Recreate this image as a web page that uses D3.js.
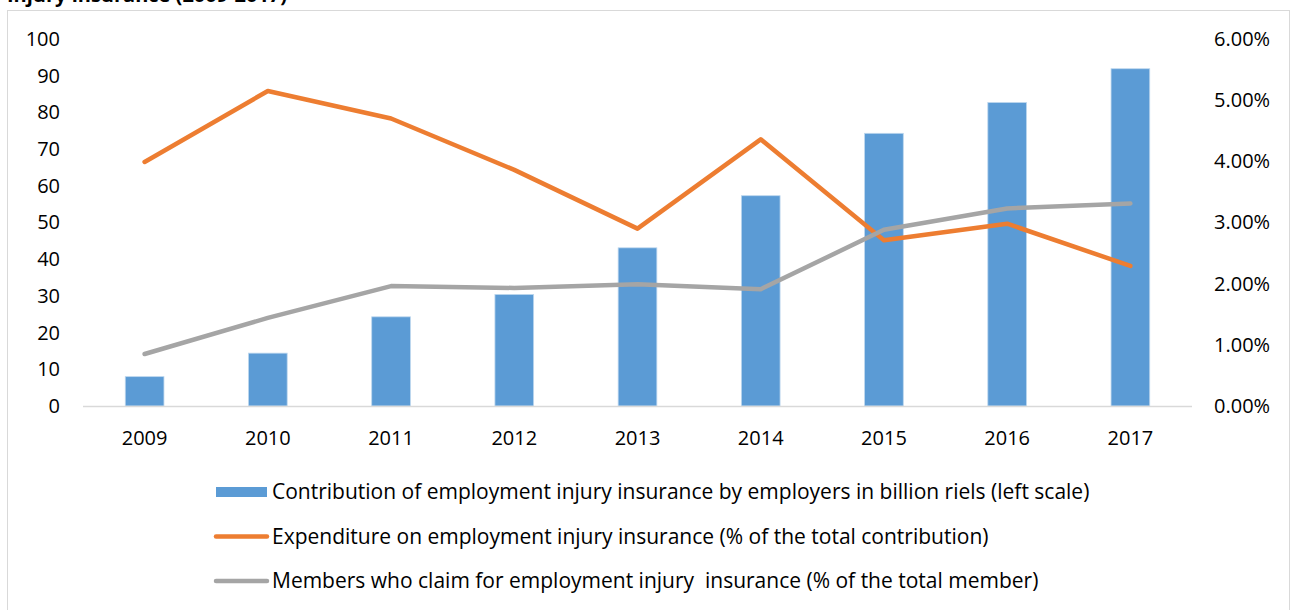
<!DOCTYPE html>
<meta charset="utf-8">
<script src="https://d3js.org/d3.v7.min.js"></script>
<style>
  body { margin: 0; background: #fff; overflow: hidden; }
  text { font-family: "Open Sans", sans-serif; fill: #000; white-space: pre; }
</style>
<div id="my_dataviz"></div>
<script>
    // data
    var years = ["2009", "2010", "2011", "2012", "2013", "2014", "2015", "2016", "2017"];
    // billion riels (left scale)
    var contribution = [8.0, 14.4, 24.3, 30.4, 43.1, 57.3, 74.3, 82.7, 91.9];
    // % of total contribution (right scale)
    var expenditure = [3.99, 5.15, 4.70, 3.86, 2.90, 4.36, 2.71, 2.98, 2.29];
    // % of total member (right scale)
    var claims = [0.85, 1.44, 1.96, 1.93, 1.99, 1.91, 2.88, 3.23, 3.31];
    var leftTicks = [0, 10, 20, 30, 40, 50, 60, 70, 80, 90, 100];
    var rightTicks = [0, 0.01, 0.02, 0.03, 0.04, 0.05, 0.06];
    var legendLabels = [
        "Contribution of employment injury insurance by employers in billion riels (left scale)",
        "Expenditure on employment injury insurance (% of the total contribution)",
        "Members who claim for employment injury  insurance (% of the total member)"
    ];

    var W = 1295, H = 610;
    var margin = {top: 39, right: 103, bottom: 204, left: 83},
        width = W - margin.left - margin.right,
        height = H - margin.top - margin.bottom;

    var svg0 = d3.select("#my_dataviz")
      .append("svg")
        .attr("width", W)
        .attr("height", H);

    // title, cut off at the top of the picture
    svg0.append("text")
        .attr("x", 7)
        .attr("y", 2)
        .style("font-weight", "bold")
        .style("font-size", "20px")
        .text("Injury insurance (2009-2017)");

    // chart frame
    svg0.append("rect")
        .attr("x", 7.5)
        .attr("y", 10.5)
        .attr("width", 1282)
        .attr("height", 640)
        .attr("fill", "none")
        .attr("stroke", "#d9d9d9");

    var svg = svg0.append("g")
        .attr("transform", "translate(" + margin.left + "," + margin.top + ")");

    var x = d3.scaleBand()
        .domain(years)
        .range([0, width])
        .paddingInner(0.686)
        .paddingOuter(0.343);

    var yL = d3.scaleLinear().domain([0, 100]).range([height, 0]);
    var yR = d3.scaleLinear().domain([0, 0.06]).range([height, 0]);

    // Bars
    svg.selectAll("myRect")
        .data(contribution)
        .enter()
        .append("rect")
        .attr("x", function(d, i) { return x(years[i]); })
        .attr("y", function(d) { return yL(d); })
        .attr("width", x.bandwidth())
        .attr("height", function(d) { return height - yL(d); })
        .attr("fill", "#5b9bd5")
        .attr("stroke", "#bdd7ee")
        .attr("stroke-width", 0.8);

    // x axis line
    svg.append("line")
        .attr("x1", 0).attr("x2", width)
        .attr("y1", height + 0.5).attr("y2", height + 0.5)
        .attr("stroke", "#d9d9d9")
        .attr("stroke-width", 1.5);

    var xAxis = svg.append("g")
        .attr("transform", "translate(0," + height + ")")
        .call(d3.axisBottom(x).tickSize(0).tickPadding(25));
    xAxis.select(".domain").remove();

    var lAxis = svg.append("g")
        .call(d3.axisLeft(yL).tickValues(leftTicks).tickSize(0).tickPadding(23));
    lAxis.select(".domain").remove();

    var rAxis = svg.append("g")
        .attr("transform", "translate(" + width + ",0)")
        .call(d3.axisRight(yR).tickValues(rightTicks).tickSize(0).tickPadding(22).tickFormat(d3.format(".2%")));
    rAxis.select(".domain").remove();

    svg.selectAll(".tick text")
        .style("font-size", "20px")
        .attr("fill", "#000");

    var cx = function(i) { return x(years[i]) + x.bandwidth() / 2; };

    var pctLine = d3.line()
        .x(function(d, i) { return cx(i); })
        .y(function(d) { return yR(d / 100); });

    svg.append("path")
        .datum(expenditure)
        .attr("d", pctLine)
        .attr("fill", "none")
        .attr("stroke", "#ed7d31")
        .attr("stroke-width", 4.5)
        .attr("stroke-linecap", "round")
        .attr("stroke-linejoin", "round");

    svg.append("path")
        .datum(claims)
        .attr("d", pctLine)
        .attr("fill", "none")
        .attr("stroke", "#a5a5a5")
        .attr("stroke-width", 4.5)
        .attr("stroke-linecap", "round")
        .attr("stroke-linejoin", "round");

    // legend
    var legend = svg0.append("g").attr("transform", "translate(216,492)");
    var colors = ["#5b9bd5", "#ed7d31", "#a5a5a5"];
    legendLabels.forEach(function(lab, i) {
        var g = legend.append("g").attr("transform", "translate(0," + (i * 44.5) + ")");
        if (i == 0) {
            g.append("rect")
                .attr("x", 0).attr("y", -5)
                .attr("width", 51).attr("height", 10)
                .attr("fill", colors[i]);
        } else {
            g.append("line")
                .attr("x1", 0).attr("x2", 51)
                .attr("y1", 0).attr("y2", 0)
                .attr("stroke", colors[i])
                .attr("stroke-width", 4.5)
                .attr("stroke-linecap", "round");
        }
        g.append("text")
            .attr("x", 56)
            .attr("y", 7)
            .style("font-size", "21px")
            .text(lab);
    });
</script>
